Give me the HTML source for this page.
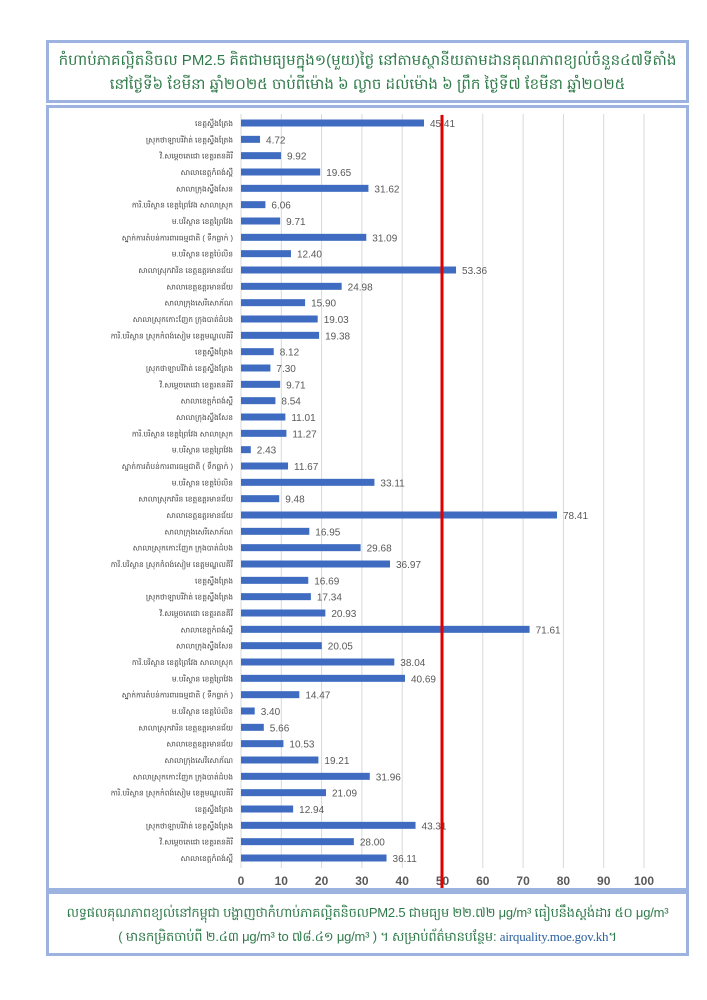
<!DOCTYPE html>
<html><head><meta charset="utf-8"><style>
body{margin:0;background:#fff;width:707px;height:1000px;position:relative;font-family:"Liberation Sans","Noto Sans CJK SC",sans-serif}
.box{position:absolute;border:3px solid #9bb3de;box-sizing:border-box}
.t{color:#2f7a4a;text-align:center;font-size:15px;line-height:24px}
</style></head><body>
<div class="box t" style="left:46px;top:40px;width:643px;height:63px;padding-top:6px">កំហាប់ភាគល្អិតនិចល PM2.5 គិតជាមធ្យមក្នុង១(មួយ)ថ្ងៃ នៅតាមស្ថានីយតាមដានគុណភាពខ្យល់ចំនួន៤៧ទីតាំង<br>នៅថ្ងៃទី៦ ខែមីនា ឆ្នាំ២០២៥ ចាប់ពីម៉ោង ៦ ល្ងាច ដល់ម៉ោង ៦ ព្រឹក ថ្ងៃទី៧ ខែមីនា ឆ្នាំ២០២៥</div>
<div class="box" style="left:46px;top:105px;width:643px;height:786px"></div>
<div class="box t" style="left:46px;top:891px;width:643px;height:65px;padding-top:7px;font-size:13px;white-space:nowrap;letter-spacing:-0.2px">លទ្ធផលគុណភាពខ្យល់នៅកម្ពុជា បង្ហាញថាកំហាប់ភាគល្អិតនិចលPM2.5 ជាមធ្យម ២២.៧២ μg/m³ ធៀបនឹងស្តង់ដារ ៥០ μg/m³<br>( មានកម្រិតចាប់ពី ២.៤៣ μg/m³ to ៧៨.៤១ μg/m³ ) ។ សម្រាប់ព័ត៌មានបន្ថែម: <span style="color:#2a5f9e;font-family:'Liberation Serif',serif">airquality.moe.gov.kh</span>។</div>
<svg width="707" height="1000" style="position:absolute;left:0;top:0" id="s"></svg>
<script>
var v=[45.41,4.72,9.92,19.65,31.62,6.06,9.71,31.09,12.40,53.36,24.98,15.90,19.03,19.38,8.12,7.30,9.71,8.54,11.01,11.27,2.43,11.67,33.11,9.48,78.41,16.95,29.68,36.97,16.69,17.34,20.93,71.61,20.05,38.04,40.69,14.47,3.40,5.66,10.53,19.21,31.96,21.09,12.94,43.31,28.00,36.11];
var labs=["ខេត្តស្ទឹងត្រែង","ស្រុកថាឡាបរិវ៉ាត់ ខេត្តស្ទឹងត្រែង","វិ.សម្តេចតេជោ ខេត្តរតនគិរី","សាលាខេត្តកំពង់ស្ពឺ","សាលាក្រុងស្ទឹងសែន","ការិ.បរិស្ថាន ខេត្តព្រៃវែង សាលាស្រុក","ម.បរិស្ថាន ខេត្តព្រៃវែង","ស្នាក់ការតំបន់ការពារធម្មជាតិ ( ទឹកធ្លាក់ )","ម.បរិស្ថាន ខេត្តប៉ៃលិន","សាលាស្រុកវារិន ខេត្តឧត្តរមានជ័យ","សាលាខេត្តឧត្តរមានជ័យ","សាលាក្រុងសេរីសោភ័ណ","សាលាស្រុកកោះញែក ក្រុងបាត់ដំបង","ការិ.បរិស្ថាន ស្រុកកំពង់សៀម ខេត្តមណ្ឌលគិរី"];
var s='',x0=241,k=4.03;
for(var i=0;i<=10;i++){var x=x0+i*10*k;s+='<line x1="'+x+'" y1="114" x2="'+x+'" y2="868" stroke="#d9d9d9" stroke-width="1"/>';
s+='<text x="'+x+'" y="885" font-size="12" fill="#595959" font-weight="bold" text-anchor="middle" font-family="Liberation Sans">'+i*10+'</text>';}
var y0=123,dy=(858-123)/45;
for(var i=0;i<46;i++){var y=y0+i*dy,w=v[i]*k;
s+='<rect x="'+x0+'" y="'+(y-3.5)+'" width="'+w+'" height="7" fill="#3f6cc0"/>';
s+='<text x="'+(x0+w+6)+'" y="'+(y+4)+'" font-size="10" fill="#595959" font-family="Liberation Sans">'+v[i].toFixed(2)+'</text>';
s+='<text x="233" y="'+(y+3)+'" font-size="7.5" fill="#404040" text-anchor="end">'+labs[i%labs.length]+'</text>';}
s+='<line x1="442" y1="115" x2="442" y2="888" stroke="#e00000" stroke-width="3"/>';
document.getElementById('s').innerHTML=s;
</script>
</body></html>
